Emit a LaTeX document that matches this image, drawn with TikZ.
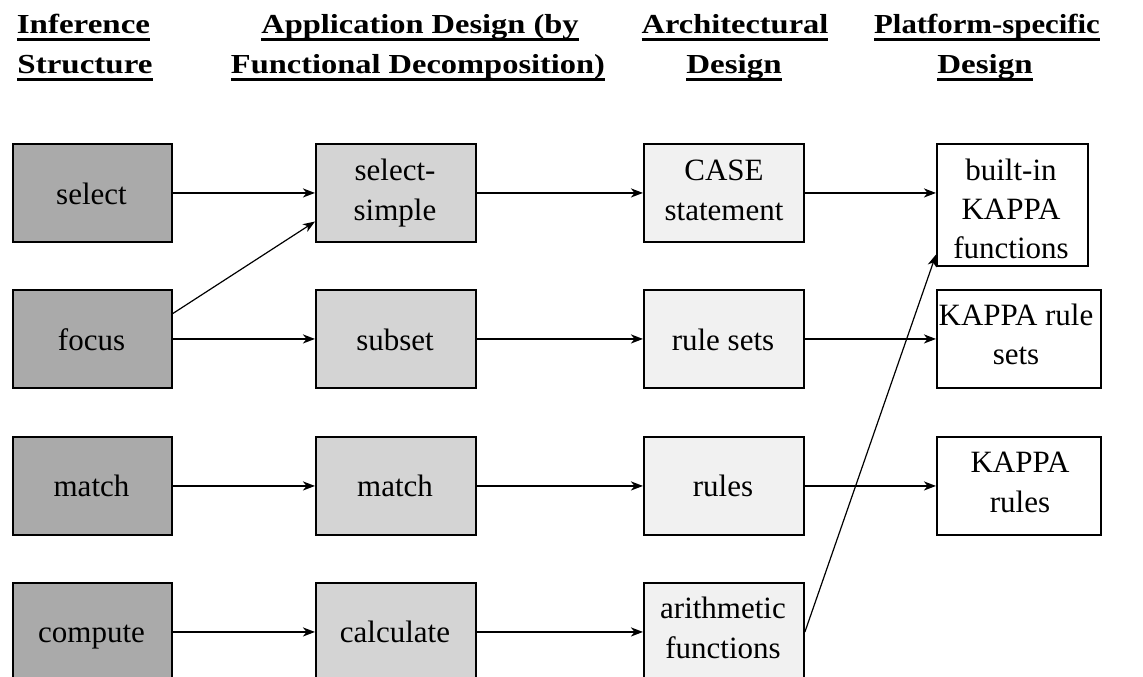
\documentclass[tikz,border=0pt]{standalone}
\usepackage{fontspec}
\usepackage{graphicx}
\setmainfont{Liberation Serif}
\usetikzlibrary{arrows.meta,calc}
\definecolor{cA}{RGB}{170,170,170}
\definecolor{cB}{RGB}{212,212,212}
\definecolor{cC}{RGB}{241,241,241}
\newcommand\hdul[2]{\scalebox{#1}[1]{\setbox0\hbox{#2}\rlap{\rule[-7pt]{\wd0}{3pt}}\box0}}
\begin{document}
\begin{tikzpicture}[x=1pt,y=-1pt,
 bx/.style={draw=black, line width=1.9pt, inner sep=0pt, anchor=north west, minimum height=98pt},
 bxa/.style={bx, fill=cA, minimum width=159pt},
 bxb/.style={bx, fill=cB, minimum width=160pt},
 bxc/.style={bx, fill=cC, minimum width=160pt},
 bxd/.style={bx, fill=white, minimum width=164pt},
 txt/.style={font=\fontsize{31}{39}\selectfont, inner sep=0pt, anchor=base},
 hd/.style={font=\bfseries\fontsize{27.5}{40}\selectfont, inner sep=0pt, anchor=base},
 arr/.style={line width=1.9pt, -{Stealth[length=12pt,width=9pt,inset=3.5pt]}},
 darr/.style={line width=1.2pt, -{Stealth[length=12pt,width=9pt,inset=3.5pt]}},
]
\useasboundingbox (0,0) rectangle (1143,677);

% headers
\node[hd] (h1a) at (83.5,34) {\hdul{1.2}{Inference}};
\node[hd] (h1b) at (85,74) {\hdul{1.2}{Structure}};
\node[hd] (h2a) at (420,34) {\hdul{1.18}{Application Design (by}};
\node[hd] (h2b) at (418,74) {\hdul{1.18}{Functional Decomposition)}};
\node[hd] (h3a) at (735,34) {\hdul{1.18}{Architectural}};
\node[hd] (h3b) at (734,74) {\hdul{1.2}{Design}};
\node[hd] (h4a) at (987,34) {\hdul{1.12}{Platform-specific}};
\node[hd] (h4b) at (985,74) {\hdul{1.2}{Design}};

% column 1
\node[bxa] (select) at (12,143) {};
\node[bxa] (focus) at (12,289) {};
\node[bxa] (match1) at (12,436) {};
\node[bxa] (compute) at (12,582) {};
% column 2
\node[bxb] (selsimple) at (315,143) {};
\node[bxb] (subset) at (315,289) {};
\node[bxb] (match2) at (315,436) {};
\node[bxb] (calculate) at (315,582) {};
% column 3
\node[bxc] (case) at (643,143) {};
\node[bxc] (rulesets) at (643,289) {};
\node[bxc] (rules) at (643,436) {};
\node[bxc] (arith) at (643,582) {};
% column 4
\node[bxd, minimum width=151pt, minimum height=122pt] (builtin) at (936,143) {};
\node[bxd] (kruleset) at (936,289) {};
\node[bxd] (krules) at (936,436) {};

% texts
\node[txt] (t1) at (91.5,204) {select};
\node[txt] (t2) at (91.5,350) {focus};
\node[txt] (t3) at (91.5,496) {match};
\node[txt] (t4) at (91.5,642) {compute};
\node[txt] (t5) at (395,180) {select-};
\node[txt] (t6) at (395,220) {simple};
\node[txt] (t7) at (395,350) {subset};
\node[txt] (t8) at (395,496) {match};
\node[txt] (t9) at (395,642) {calculate};
\node[txt] (t10) at (724,180) {CASE};
\node[txt] (t11) at (724,220) {statement};
\node[txt] (t12) at (723,350) {rule sets};
\node[txt] (t13) at (723,496) {rules};
\node[txt] (t14) at (723,618) {arithmetic};
\node[txt] (t15) at (723,658) {functions};
\node[txt] (t16) at (1011,180) {built-in};
\node[txt] (t17) at (1011,219) {KAPPA};
\node[txt] (t18) at (1011,258) {functions};
\node[txt] (t19) at (1016,325) {KAPPA rule};
\node[txt] (t20) at (1016,364) {sets};
\node[txt] (t21) at (1020,472) {KAPPA};
\node[txt] (t22) at (1020,512) {rules};

% connectors
\draw[arr] (select) -- (selsimple);
\draw[arr] (focus) -- (subset);
\draw[arr] (match1) -- (match2);
\draw[arr] (compute) -- (calculate);
\draw[arr] (selsimple) -- (case);
\draw[arr] (subset) -- (rulesets);
\draw[arr] (match2) -- (rules);
\draw[arr] (calculate) -- (arith);
\draw[arr] (case.east) -- (case.east -| builtin.west);
\draw[arr] (rulesets) -- (kruleset);
\draw[arr] (rules) -- (krules);
\draw[darr] ($(focus.north east)!0.245!(focus.south east)$) -- ($(selsimple.north west)!0.786!(selsimple.south west)$);
\draw[darr] (arith.east) -- ($(builtin.north west)!0.9!(builtin.south west)$);
\end{tikzpicture}
\end{document}
